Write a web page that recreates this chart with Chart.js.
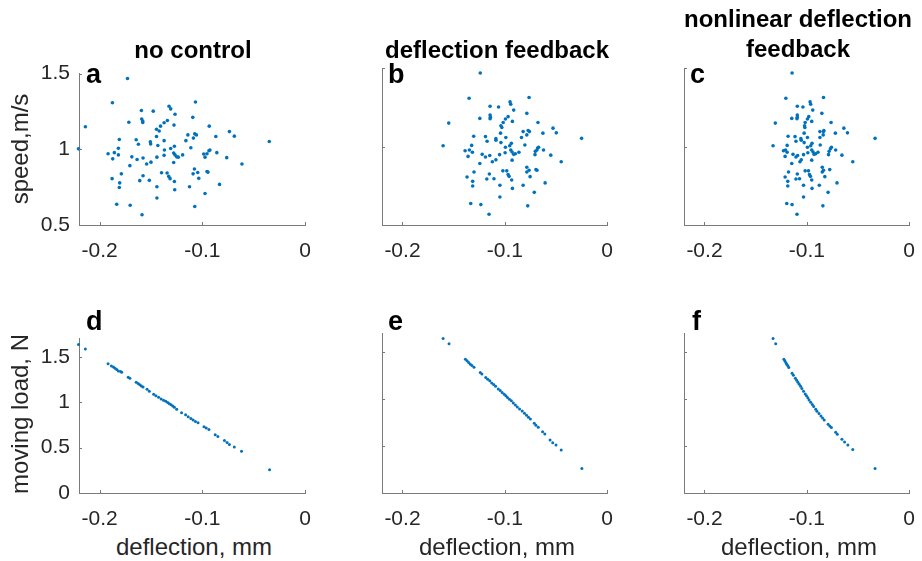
<!DOCTYPE html>
<html>
<head>
<meta charset="utf-8">
<script src="https://cdn.jsdelivr.net/npm/chart.js@4"></script>
<style>
  html, body { margin: 0; padding: 0; background: #fff; overflow: hidden; }
  body { width: 922px; height: 561px; position: relative; font-family: "Liberation Sans", Arial, sans-serif; color: #000; }
  canvas { position: absolute; }
  .txt { position: absolute; white-space: nowrap; line-height: 1; }
  .title { font-weight: bold; font-size: 24px; transform: translateX(-50%); }
  .xlab { font-size: 24px; transform: translateX(-50%); color: #262626; }
  .ylab { font-size: 24px; transform: translate(-50%, -50%) rotate(-90deg); color: #262626; }
  .letter { font-weight: bold; font-size: 27px; }
</style>
</head>
<body>
<canvas id="pa"></canvas>
<canvas id="pb"></canvas>
<canvas id="pc"></canvas>
<canvas id="pd"></canvas>
<canvas id="pe"></canvas>
<canvas id="pf"></canvas>

<div class="txt title" style="left:193px; top:38px;">no control</div>
<div class="txt title" style="left:497px; top:38px;">deflection feedback</div>
<div class="txt title" style="left:798px; top:7px;">nonlinear deflection</div>
<div class="txt title" style="left:798px; top:37px;">feedback</div>

<div class="txt ylab" style="left:20px; top:149px;">speed,m/s</div>
<div class="txt ylab" style="left:20px; top:414px;">moving load, N</div>

<div class="txt xlab" style="left:194px; top:535px;">deflection, mm</div>
<div class="txt xlab" style="left:497px; top:535px;">deflection, mm</div>
<div class="txt xlab" style="left:799px; top:535px;">deflection, mm</div>

<div class="txt letter" style="left:86px; top:61px;">a</div>
<div class="txt letter" style="left:388px; top:61px;">b</div>
<div class="txt letter" style="left:690px; top:61px;">c</div>
<div class="txt letter" style="left:86px; top:308px;">d</div>
<div class="txt letter" style="left:388px; top:308px;">e</div>
<div class="txt letter" style="left:692px; top:308px;">f</div>

<script>
// tick labels
const deflectionTicks = [-0.2, -0.1, 0];
const speedTicks = [0.5, 1, 1.5];
const loadTicks = [0, 0.5, 1, 1.5];

// a: no control, speed vs deflection
const deflA = [-0.2205,-0.2138,-0.1875,-0.1728,-0.1593,-0.1478,-0.1324,-0.1308,-0.1266,-0.1067,
  -0.1093,-0.1715,-0.1590,-0.1580,-0.1580,-0.1407,-0.1372,-0.1340,-0.1276,-0.1446,
  -0.1420,-0.1446,-0.1808,-0.1644,-0.1622,-0.1506,-0.1503,-0.1372,-0.1433,-0.1817,
  -0.1917,-0.1856,-0.1817,-0.1872,-0.1686,-0.1635,-0.1577,-0.1442,-0.1369,-0.1308,
  -0.1272,-0.1279,-0.1266,-0.1250,-0.1234,-0.1192,-0.1372,-0.1279,-0.1542,-0.1500,
  -0.1705,-0.1160,-0.1141,-0.1087,-0.1074,-0.1058,-0.1112,-0.0933,-0.0869,-0.0737,
  -0.0689,-0.0349,-0.0987,-0.0955,-0.0936,-0.0926,-0.0974,-0.0859,-0.0763,-0.0615,
  -0.1788,-0.1878,-0.1804,-0.1808,-0.1609,-0.1577,-0.1516,-0.1442,-0.1397,-0.1343,
  -0.1327,-0.1314,-0.1272,-0.1269,-0.1125,-0.1077,-0.1045,-0.1090,-0.1035,-0.0955,
  -0.0946,-0.0833,-0.0974,-0.1442,-0.1833,-0.1702,-0.1074,-0.1587];
const speedA = [1.003,1.149,1.307,1.468,1.256,1.252,1.284,1.267,1.232,1.312,
  1.211,1.179,1.200,1.187,1.177,1.153,1.175,1.190,1.160,1.132,
  1.121,1.085,1.065,1.063,1.033,1.050,1.035,1.057,1.025,1.007,
  0.971,0.978,0.963,0.937,0.950,0.933,0.943,0.948,0.995,1.005,
  1.020,0.975,0.963,0.950,0.948,0.963,0.960,0.913,0.903,0.915,
  0.892,1.057,1.095,1.074,1.102,1.095,1.010,1.153,1.085,1.117,
  1.087,1.052,0.969,0.971,0.990,0.995,0.948,0.978,0.945,0.903,
  0.838,0.806,0.778,0.748,0.793,0.825,0.795,0.753,0.845,0.843,
  0.821,0.806,0.787,0.733,0.753,0.870,0.847,0.838,0.808,0.853,
  0.849,0.768,0.708,0.678,0.637,0.630,0.622,0.568];

// b: deflection feedback
const deflB = [-0.1240,-0.1349,-0.0763,-0.1548,-0.1603,-0.1144,-0.1061,-0.0949,-0.0942,-0.0913,
  -0.0785,-0.1244,-0.1144,-0.1141,-0.1144,-0.0968,-0.0994,-0.1016,-0.0926,-0.1038,
  -0.1029,-0.1042,-0.1304,-0.1189,-0.1173,-0.1087,-0.1087,-0.0990,-0.1038,-0.1324,
  -0.1388,-0.1346,-0.1317,-0.1359,-0.1221,-0.1189,-0.1147,-0.1051,-0.0994,-0.0952,
  -0.0936,-0.0942,-0.0929,-0.0913,-0.0897,-0.0862,-0.0997,-0.0929,-0.1122,-0.1087,
  -0.1244,-0.0837,-0.0821,-0.0785,-0.0772,-0.0760,-0.0804,-0.0676,-0.0628,-0.0529,
  -0.0497,-0.0250,-0.0702,-0.0686,-0.0679,-0.0670,-0.0705,-0.0622,-0.0551,-0.0449,
  -0.1301,-0.1369,-0.1314,-0.1314,-0.1176,-0.1151,-0.1106,-0.1048,-0.1019,-0.0981,
  -0.0968,-0.0958,-0.0933,-0.0926,-0.0821,-0.0785,-0.0763,-0.0785,-0.0753,-0.0696,
  -0.0686,-0.0606,-0.0712,-0.1048,-0.1333,-0.1234,-0.0776,-0.1154];
const speedB = [1.468,1.307,1.312,1.149,1.005,1.256,1.252,1.284,1.269,1.232,
  1.211,1.179,1.200,1.187,1.177,1.190,1.175,1.153,1.160,1.132,
  1.121,1.085,1.065,1.063,1.033,1.050,1.040,1.057,1.025,1.007,
  0.973,0.978,0.963,0.937,0.950,0.933,0.943,0.948,0.995,1.005,
  1.020,0.978,0.965,0.950,0.954,0.963,0.960,0.913,0.903,0.915,
  0.892,1.057,1.095,1.074,1.102,1.095,1.010,1.153,1.085,1.117,
  1.087,1.052,0.969,0.978,0.990,0.995,0.948,0.978,0.945,0.903,
  0.838,0.806,0.778,0.748,0.793,0.825,0.795,0.753,0.845,0.845,
  0.821,0.810,0.787,0.733,0.753,0.868,0.849,0.838,0.808,0.853,
  0.849,0.768,0.708,0.678,0.637,0.630,0.622,0.568];

// c: nonlinear deflection feedback
const deflC = [-0.1144,-0.1205,-0.0837,-0.1308,-0.1330,-0.1093,-0.1038,-0.0968,-0.0962,-0.0942,
  -0.0853,-0.1147,-0.1093,-0.1093,-0.1096,-0.0981,-0.0994,-0.1016,-0.0952,-0.1022,
  -0.1019,-0.1026,-0.1183,-0.1115,-0.1106,-0.1058,-0.1054,-0.0994,-0.1026,-0.1192,
  -0.1228,-0.1208,-0.1192,-0.1212,-0.1135,-0.1106,-0.1090,-0.1032,-0.0994,-0.0962,
  -0.0949,-0.0952,-0.0939,-0.0929,-0.0913,-0.0891,-0.0990,-0.0952,-0.1067,-0.1054,
  -0.1147,-0.0872,-0.0872,-0.0840,-0.0833,-0.0837,-0.0869,-0.0763,-0.0721,-0.0638,
  -0.0603,-0.0333,-0.0782,-0.0769,-0.0760,-0.0788,-0.0718,-0.0657,-0.0551,
  -0.1179,-0.1212,-0.1186,-0.1186,-0.1106,-0.1093,-0.1071,-0.1032,-0.1016,-0.0984,
  -0.0974,-0.0965,-0.0952,-0.0949,-0.0878,-0.0849,-0.0837,-0.0849,-0.0824,-0.0776,
  -0.0705,-0.0792,-0.1032,-0.1196,-0.1144,-0.0843,-0.1096];
const speedC = [1.468,1.307,1.312,1.149,1.005,1.256,1.252,1.284,1.269,1.232,
  1.211,1.179,1.200,1.187,1.177,1.190,1.175,1.153,1.160,1.132,
  1.121,1.085,1.065,1.063,1.033,1.050,1.040,1.057,1.025,1.007,
  0.973,0.978,0.963,0.937,0.950,0.933,0.943,0.948,0.995,1.005,
  1.020,0.978,0.965,0.950,0.954,0.963,0.960,0.913,0.903,0.915,
  0.892,1.057,1.095,1.074,1.102,1.095,1.010,1.153,1.085,1.117,
  1.087,1.052,0.969,0.986,0.995,0.948,0.978,0.945,0.903,
  0.838,0.806,0.778,0.748,0.793,0.825,0.795,0.753,0.845,0.845,
  0.821,0.810,0.787,0.733,0.753,0.868,0.849,0.838,0.808,0.853,
  0.768,0.708,0.678,0.637,0.630,0.622,0.568];

// d: no control, load vs deflection
const deflD = [-0.2205,-0.2138,-0.1917,-0.1885,-0.1865,-0.1849,-0.1833,-0.1817,-0.1795,-0.1785,
  -0.1721,-0.1705,-0.1644,-0.1625,-0.1609,-0.1593,-0.1577,-0.1538,-0.1516,-0.1474,
  -0.1452,-0.1426,-0.1401,-0.1378,-0.1356,-0.1337,-0.1321,-0.1304,-0.1288,-0.1272,
  -0.1250,-0.1202,-0.1163,-0.1138,-0.1112,-0.1090,-0.1067,-0.1042,-0.0984,-0.0962,
  -0.0936,-0.0875,-0.0849,-0.0785,-0.0760,-0.0737,-0.0689,-0.0619,-0.0346];
const loadD = [1.634,1.585,1.422,1.397,1.386,1.373,1.359,1.344,1.337,1.330,
  1.274,1.263,1.220,1.205,1.193,1.178,1.167,1.141,1.121,1.088,
  1.071,1.053,1.035,1.021,1.011,0.997,0.982,0.972,0.957,0.944,
  0.922,0.883,0.862,0.840,0.819,0.805,0.787,0.773,0.730,0.716,
  0.699,0.642,0.621,0.578,0.557,0.535,0.507,0.461,0.255];

// e: deflection feedback
const deflE = [-0.1603,-0.1545,-0.1385,-0.1369,-0.1353,-0.1337,-0.1321,-0.1301,-0.1240,-0.1224,
  -0.1186,-0.1167,-0.1147,-0.1128,-0.1109,-0.1090,-0.1064,-0.1045,-0.1026,-0.1006,
  -0.0990,-0.0974,-0.0955,-0.0936,-0.0917,-0.0897,-0.0878,-0.0856,-0.0830,-0.0808,
  -0.0788,-0.0769,-0.0750,-0.0712,-0.0696,-0.0673,-0.0631,-0.0609,-0.0558,-0.0532,
  -0.0500,-0.0449,-0.0247];
const loadE = [1.641,1.585,1.422,1.404,1.386,1.369,1.355,1.337,1.280,1.265,
  1.227,1.209,1.192,1.170,1.152,1.135,1.106,1.088,1.068,1.050,
  1.032,1.015,0.997,0.979,0.957,0.936,0.915,0.893,0.872,0.847,
  0.827,0.805,0.787,0.741,0.720,0.699,0.652,0.628,0.564,0.535,
  0.511,0.458,0.259];

// f: nonlinear deflection feedback
const deflF = [-0.1330,-0.1304,-0.1224,-0.1215,-0.1205,-0.1196,-0.1186,-0.1176,-0.1144,-0.1131,
  -0.1112,-0.1099,-0.1087,-0.1074,-0.1061,-0.1048,-0.1032,-0.1016,-0.1003,-0.0990,
  -0.0978,-0.0962,-0.0946,-0.0933,-0.0913,-0.0901,-0.0881,-0.0862,-0.0846,-0.0830,
  -0.0792,-0.0776,-0.0760,-0.0718,-0.0702,-0.0657,-0.0631,-0.0599,-0.0551,-0.0333];
const loadF = [1.641,1.585,1.422,1.404,1.386,1.369,1.351,1.333,1.273,1.252,
  1.220,1.199,1.177,1.156,1.135,1.110,1.081,1.053,1.032,1.011,
  0.989,0.964,0.940,0.918,0.891,0.869,0.844,0.819,0.798,0.776,
  0.730,0.712,0.695,0.646,0.624,0.571,0.542,0.511,0.461,0.259];

const dotColor = '#0072BD';
const axisColor = '#7a7a7a';
const textColor = '#262626';
const fontFamily = '"Liberation Sans", Arial, sans-serif';

// plot area edges in page pixels
const colLeft = [79, 382, 684];
const colRight = [309, 611, 913];
const rowTop = [68, 333];
const rowBottom = [225, 493];
const M = { l: 75, r: 16, t: 16, b: 40 };

function pairs(xs, ys) {
  return xs.map(function (x, i) { return { x: x, y: ys[i] }; });
}

// MATLAB style ticks pointing into the plot
const inwardTicks = {
  id: 'inwardTicks',
  afterDatasetsDraw(chart) {
    const ctx = chart.ctx;
    const a = chart.chartArea;
    const xs = chart.scales.x, ys = chart.scales.y;
    ctx.save();
    ctx.strokeStyle = axisColor;
    ctx.lineWidth = 1;
    xs.ticks.forEach(function (t) {
      const p = Math.round(xs.getPixelForValue(t.value)) + 0.5;
      ctx.beginPath(); ctx.moveTo(p, a.bottom); ctx.lineTo(p, a.bottom - 3); ctx.stroke();
    });
    ys.ticks.forEach(function (t) {
      const p = Math.round(ys.getPixelForValue(t.value)) + 0.5;
      ctx.beginPath(); ctx.moveTo(a.left, p); ctx.lineTo(a.left + 3, p); ctx.stroke();
    });
    ctx.restore();
  }
};

function makePanel(id, col, row, xs, ys, yMin, yMax, yTicks, showY, radius) {
  const canvas = document.getElementById(id);
  const w = colRight[col] - colLeft[col] + M.l + M.r;
  const h = rowBottom[row] - rowTop[row] + M.t + M.b;
  canvas.width = w; canvas.height = h;
  canvas.style.left = (colLeft[col] - M.l) + 'px';
  canvas.style.top = (rowTop[row] - M.t) + 'px';
  canvas.style.width = w + 'px'; canvas.style.height = h + 'px';

  new Chart(canvas.getContext('2d'), {
    type: 'scatter',
    data: {
      datasets: [{
        data: pairs(xs, ys),
        backgroundColor: dotColor,
        borderWidth: 0,
        pointRadius: radius,
        clip: false
      }]
    },
    options: {
      responsive: false,
      animation: false,
      layout: { padding: { top: M.t, right: M.r, left: 0, bottom: 0 } },
      plugins: { legend: { display: false }, tooltip: { enabled: false } },
      scales: {
        x: {
          type: 'linear', min: -0.22, max: 0,
          afterBuildTicks: function (s) { s.ticks = deflectionTicks.map(function (v) { return { value: v }; }); },
          afterFit: function (s) { s.height = M.b; },
          grid: { display: false, drawTicks: false },
          border: { display: true, color: axisColor, width: 1 },
          ticks: { color: textColor, padding: 14, maxRotation: 0,
                   font: { family: fontFamily, size: 21 },
                   callback: function (v) { return String(v); } }
        },
        y: {
          type: 'linear', min: yMin, max: yMax,
          afterBuildTicks: function (s) { s.ticks = yTicks.map(function (v) { return { value: v }; }); },
          afterFit: function (s) { s.width = M.l; },
          grid: { display: false, drawTicks: false },
          border: { display: true, color: axisColor, width: 1 },
          ticks: { display: showY, color: textColor, padding: 9,
                   font: { family: fontFamily, size: 21 },
                   callback: function (v) { return String(v); } }
        }
      }
    },
    plugins: [inwardTicks]
  });
}

makePanel('pa', 0, 0, deflA, speedA, 0.5, 1.5, speedTicks, true, 1.8);
makePanel('pb', 1, 0, deflB, speedB, 0.5, 1.5, speedTicks, false, 1.8);
makePanel('pc', 2, 0, deflC, speedC, 0.5, 1.5, speedTicks, false, 1.8);
makePanel('pd', 0, 1, deflD, loadD, 0, 1.7, loadTicks, true, 1.5);
makePanel('pe', 1, 1, deflE, loadE, 0, 1.7, loadTicks, false, 1.5);
makePanel('pf', 2, 1, deflF, loadF, 0, 1.7, loadTicks, false, 1.5);
</script>
</body>
</html>
